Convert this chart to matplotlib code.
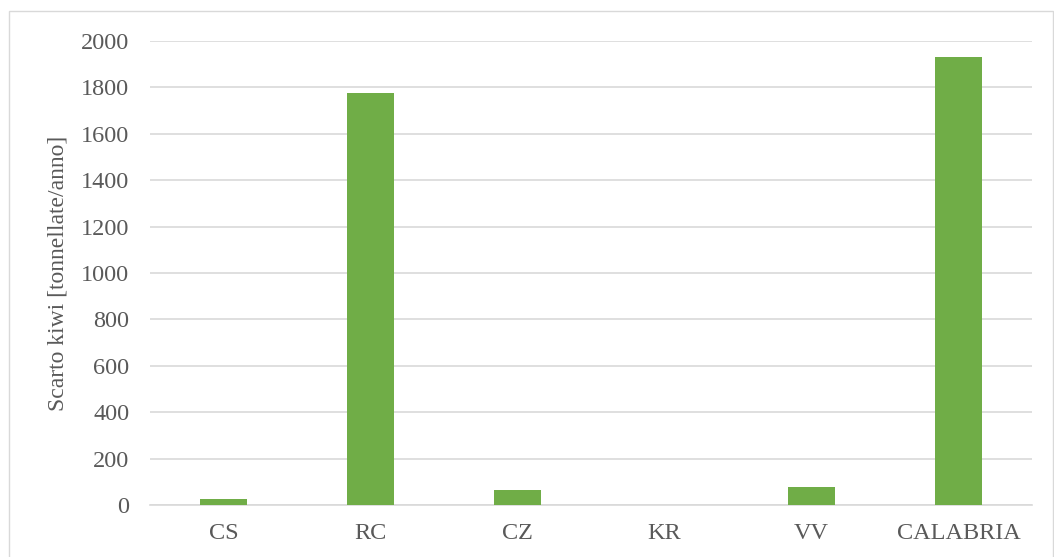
import matplotlib.pyplot as plt
from matplotlib.patches import Rectangle

# waste kiwi per province (tonnes / year)
province = ['CS', 'RC', 'CZ', 'KR', 'VV', 'CALABRIA']
scarto = [26, 1776, 64, 0, 77, 1933]
y_ticks = [0, 200, 400, 600, 800, 1000, 1200, 1400, 1600, 1800, 2000]

plt.rcParams['font.family'] = ['Liberation Serif', 'DejaVu Serif']
text_col = '#595959'

fig = plt.figure(figsize=(10.54, 5.57), dpi=100)
ax = fig.add_axes([150 / 1054, 1 - 505 / 557, (1032 - 150) / 1054, (505 - 41) / 557])

ax.bar(range(len(province)), scarto, width=0.32, color='#70AD47', zorder=3)

ax.set_xlim(-0.5, len(province) - 0.5)
ax.set_ylim(0, 2000)
ax.set_yticks(y_ticks)
ax.set_xticks(range(len(province)))
ax.set_xticklabels(province)
ax.tick_params(length=0, labelsize=17.5, colors=text_col, pad=13)
ax.tick_params(axis='y', pad=15)
ax.grid(axis='y', color='#D9D9D9', linewidth=1.2, zorder=0)
for s in ['top', 'right', 'left']:
    ax.spines[s].set_visible(False)
ax.spines['bottom'].set_color('#D9D9D9')
ax.spines['bottom'].set_linewidth(1.2)

ax.set_ylabel('Scarto kiwi [tonnellate/anno]', fontsize=17, color=text_col, labelpad=9)

# chart area frame
fig.patches.append(Rectangle((9 / 1054, -0.05), (1053 - 9) / 1054, 1.05 - 11 / 557,
                             transform=fig.transFigure, fill=False,
                             edgecolor='#D9D9D9', linewidth=1))

fig.savefig('out.png', dpi=100)
